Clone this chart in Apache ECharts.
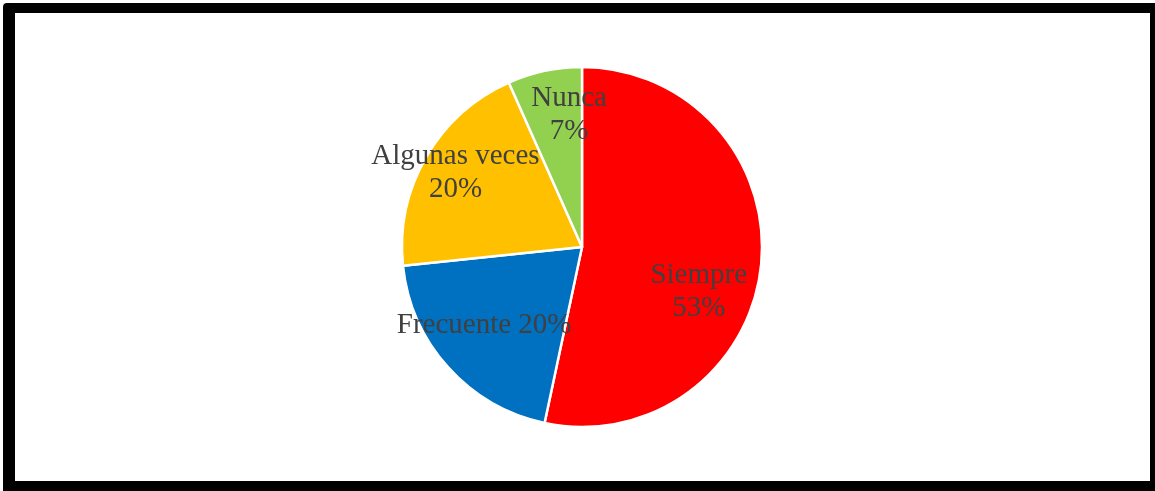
<!DOCTYPE html>
<html>
<head>
<meta charset="utf-8">
<script src="https://cdn.jsdelivr.net/npm/echarts@6/dist/echarts.min.js"></script>
<style>
  html, body { margin: 0; padding: 0; background: #fff; }
  #chart { width: 1155px; height: 491px; }
</style>
</head>
<body>
<div id="chart"></div>
<script>
// Response categories and their counts
const categories = ['Siempre', 'Frecuente', 'Algunas veces', 'Nunca'];
const counts = [8, 3, 3, 1];
const colors = ['#FF0000', '#0070C0', '#FFC000', '#92D050'];
// Label separator between name and percentage (one-line or two-line labels)
const labelSeparators = ['\n', ' ', '\n', '\n'];
// Label placement: angle (degrees clockwise from 12 o'clock) and radius fraction
const labelAngles = [110.0, 232.0, 301.0, 354.5];
const labelRadii = [0.69, 0.69, 0.82, 0.75];

const cx = 582, cy = 247, R = 180;

const chart = echarts.init(document.getElementById('chart'));
chart.setOption({
  backgroundColor: '#ffffff',
  animation: false,
  graphic: [
    { type: 'rect', shape: { x: 3, y: 3, width: 1170, height: 520, r: 4 }, style: { fill: '#000' }, z: -10 },
    { type: 'rect', shape: { x: 15, y: 13, width: 1135, height: 468 }, style: { fill: '#fff' }, z: -9 }
  ],
  series: [{
    type: 'pie',
    center: [cx, cy],
    radius: [0, R],
    startAngle: 90,
    clockwise: true,
    data: categories.map((c, i) => ({ name: c, value: counts[i], itemStyle: { color: colors[i] } })),
    itemStyle: { borderColor: '#ffffff', borderWidth: 2.5 },
    label: {
      show: true,
      position: 'inside',
      fontFamily: '"Liberation Serif", "Times New Roman", serif',
      fontSize: 29,
      lineHeight: 33,
      color: '#404040',
      align: 'center',
      formatter: p => p.name + labelSeparators[p.dataIndex] + Math.round(p.percent) + '%'
    },
    labelLine: { show: false },
    labelLayout: function (params) {
      const i = params.dataIndex;
      const a = labelAngles[i] * Math.PI / 180;
      const r = labelRadii[i] * R;
      return { x: cx + r * Math.sin(a), y: cy - r * Math.cos(a) + 2, align: 'center', verticalAlign: 'middle' };
    },
    emphasis: { disabled: true }
  }]
});
</script>
</body>
</html>
